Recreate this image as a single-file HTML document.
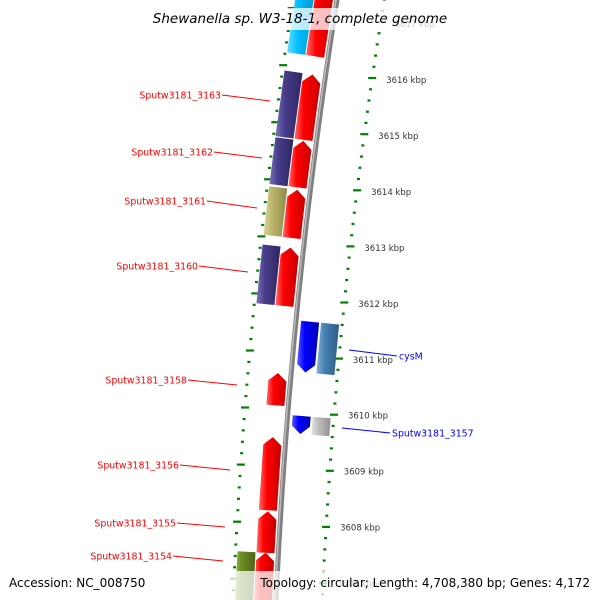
<!DOCTYPE html>
<html><head><meta charset="utf-8"><style>
html,body{margin:0;padding:0;background:#fff;width:600px;height:600px;overflow:hidden;}
svg{display:block;font-family:"DejaVu Sans","Liberation Sans",sans-serif;}
</style></head><body>
<svg id="map" width="600" height="600" viewBox="0 0 600 600" overflow="hidden">
<defs>
<linearGradient id="g-red" x1="0" x2="1" y1="0" y2="0"><stop offset="0" stop-color="#ff6a6a"/><stop offset="0.35" stop-color="#ff0000"/><stop offset="1" stop-color="#c80000"/></linearGradient>
<linearGradient id="g-blue" x1="0" x2="1"><stop offset="0" stop-color="#5a5aff"/><stop offset="0.35" stop-color="#0000ff"/><stop offset="1" stop-color="#0000b0"/></linearGradient>
<linearGradient id="g-purple" x1="0" x2="1"><stop offset="0" stop-color="#7a70b8"/><stop offset="0.35" stop-color="#483d8b"/><stop offset="1" stop-color="#2e2660"/></linearGradient>
<linearGradient id="g-khaki" x1="0" x2="1"><stop offset="0" stop-color="#d8d49a"/><stop offset="0.35" stop-color="#bdb76b"/><stop offset="1" stop-color="#8f8a4c"/></linearGradient>
<linearGradient id="g-cyan" x1="0" x2="1"><stop offset="0" stop-color="#66dcff"/><stop offset="0.35" stop-color="#00bfff"/><stop offset="1" stop-color="#0090c8"/></linearGradient>
<linearGradient id="g-olive" x1="0" x2="1"><stop offset="0" stop-color="#9ab552"/><stop offset="0.35" stop-color="#6b8e23"/><stop offset="1" stop-color="#4a6418"/></linearGradient>
<linearGradient id="g-steel" x1="0" x2="1"><stop offset="0" stop-color="#8ab4dc"/><stop offset="0.35" stop-color="#4682b4"/><stop offset="1" stop-color="#2e5c84"/></linearGradient>
<linearGradient id="g-gray" x1="0" x2="1"><stop offset="0" stop-color="#e4e4e4"/><stop offset="0.35" stop-color="#c0c0c0"/><stop offset="1" stop-color="#909090"/></linearGradient>
<clipPath id="frame"><rect x="0" y="0" width="600" height="600"/></clipPath>
</defs>
<g id="layer" clip-path="url(#frame)"></g>
<rect x="148" y="8" width="305" height="22" fill="#fff" fill-opacity="0.75"/>
<text x="300" y="23" text-anchor="middle" font-size="13.5" font-style="italic" fill="#000">Shewanella sp. W3-18-1, complete genome</text>
<rect x="224" y="571" width="376" height="29" fill="#fff" fill-opacity="0.75"/>
<text x="9" y="587" font-size="12" fill="#000">Accession: NC_008750</text>
<text x="590" y="587" text-anchor="end" font-size="12" fill="#000">Topology: circular; Length: 4,708,380 bp; Genes: 4,172</text>
</svg>
<script>
// genome data (kbp)
const tickKbp = [3607, 3608, 3609, 3610, 3611, 3612, 3613, 3614, 3615, 3616, 3617];
const geneNames = ["gene_top", "Sputw3181_3163", "Sputw3181_3162", "Sputw3181_3161", "Sputw3181_3160", "Sputw3181_3158", "Sputw3181_3156", "Sputw3181_3155", "Sputw3181_3154", "cysM", "Sputw3181_3157"];
const geneStart = [3616.23, 3614.76, 3613.92, 3613.03, 3611.83, 3610.08, 3608.23, 3607.48, 3606.4, 3611.60, 3609.93];
const geneEnd   = [3617.6, 3615.91, 3614.74, 3613.88, 3612.86, 3610.65, 3609.52, 3608.21, 3607.48, 3610.70, 3609.61];
const geneStrand = [1, 1, 1, 1, 1, 1, 1, 1, 1, -1, -1];
const geneCog = ["cyan", "purple", "purple", "khaki", "purple", "", "", "", "olive", "steel", "gray"];

const layer = document.getElementById('layer');
const NS = 'http://www.w3.org/2000/svg';
const A = -0.158, B = 9.44e-5;
function bx(y){ return 337 + A*y + B*y*y; }
function yOf(g){ return 71.3 + (3616 - g)*56.6; }
function pt(g, d){ const y0 = yOf(g); const s = -(A + 2*B*y0); return [bx(y0) + d, y0 + s*d]; }
function mk(tag, attrs){ const e = document.createElementNS(NS, tag); for (const k in attrs) e.setAttribute(k, attrs[k]); layer.appendChild(e); return e; }

// backbone
(function(){
  let p = [];
  for (let g = 3618; g >= 3606; g -= 0.1) { const q = pt(g, 0); p.push(q[0].toFixed(1)+','+q[1].toFixed(1)); }
  const e = mk('polyline', {points: p.join(' '), fill: 'none', stroke: '#808080', 'stroke-width': 5});
  
  
  const e2 = mk('polyline', {points: p.join(' '), fill: 'none', stroke: '#bbb', 'stroke-width': 1.5, transform: 'translate(-1,0)'});
  
  
})();

// tick rings
function ring(d, name){
  for (let i = Math.round(3606*5); i <= 3618*5; i++) {
    const g = i/5; const major = (i % 5 === 0);
    const q = pt(g, d); if (q[1] < -5 || q[1] > 605) continue;
    const w = major ? 8 : 3;
    const e = mk('rect', {x: (q[0]-w/2).toFixed(1), y: (q[1]-1).toFixed(1), width: w, height: 2.2, fill: '#008000'});
    
    
  }
}
ring(-43, 'inner-ring');
ring(46, 'outer-ring');

// tick labels
tickKbp.forEach(k => {
  const q = pt(k, 60);
  const t = mk('text', {x: q[0].toFixed(1), y: (q[1]+3).toFixed(1), 'font-size': 8.5, fill: '#333'});
  t.textContent = k + ' kbp';
  
  
});

function geneShape(s, e, dir, d, w, fill, name){
  const head = 0.14;
  const lo = Math.min(s, e), hi = Math.max(s, e);
  let pts;
  if (dir === 1) {
    const hb = Math.max(lo, hi - head);
    pts = [pt(lo, d-w/2), pt(hb, d-w/2), pt(hi, d), pt(hb, d+w/2), pt(lo, d+w/2)];
  } else if (dir === -1) {
    const hb = Math.min(hi, lo + head);
    pts = [pt(hi, d-w/2), pt(hb, d-w/2), pt(lo, d), pt(hb, d+w/2), pt(hi, d+w/2)];
  } else {
    pts = [pt(lo, d-w/2), pt(hi, d-w/2), pt(hi, d+w/2), pt(lo, d+w/2)];
  }
  const el = mk('polygon', {points: pts.map(p => p[0].toFixed(1)+','+p[1].toFixed(1)).join(' '), fill: fill});
  
  
}

for (let i = 0; i < geneNames.length; i++) {
  const fwd = geneStrand[i] === 1;
  geneShape(geneStart[i], geneEnd[i], geneStrand[i], fwd ? -13 : 14, 18, fwd ? 'url(#g-red)' : 'url(#g-blue)', 'gene-' + geneNames[i]);
  if (geneCog[i]) geneShape(geneStart[i], geneEnd[i], 0, fwd ? -32 : 34, 18, 'url(#g-' + geneCog[i] + ')', 'cog-' + geneNames[i]);
}

// gene labels
const labels = [
  ["Sputw3181_3163", 222, 95, 270, 101, -1],
  ["Sputw3181_3162", 214, 152, 262, 158, -1],
  ["Sputw3181_3161", 207, 201, 257, 208, -1],
  ["Sputw3181_3160", 199, 266, 248, 272, -1],
  ["Sputw3181_3158", 188, 380, 237, 385, -1],
  ["Sputw3181_3156", 180, 465, 230, 470, -1],
  ["Sputw3181_3155", 177, 523, 225, 527, -1],
  ["Sputw3181_3154", 173, 556, 223, 561, -1],
  ["cysM", 349, 350, 397, 356, 1],
  ["Sputw3181_3157", 342, 428, 390, 433, 1]
];
labels.forEach(l => {
  const col = l[5] < 0 ? '#ff0000' : '#0000ff';
  const ln = mk('line', {x1: l[1], y1: l[2], x2: l[3], y2: l[4], stroke: col, 'stroke-width': 1});
  
  
  const t = mk('text', {x: l[5] < 0 ? l[1]-1 : l[3]+2, y: (l[5] < 0 ? l[2] : l[4]) + 3.5, 'font-size': 9.4, fill: col, 'text-anchor': l[5] < 0 ? 'end' : 'start', 'font-family': '"DejaVu Sans", sans-serif'});
  t.textContent = l[0];
  
  
});
</script>
</body></html>
